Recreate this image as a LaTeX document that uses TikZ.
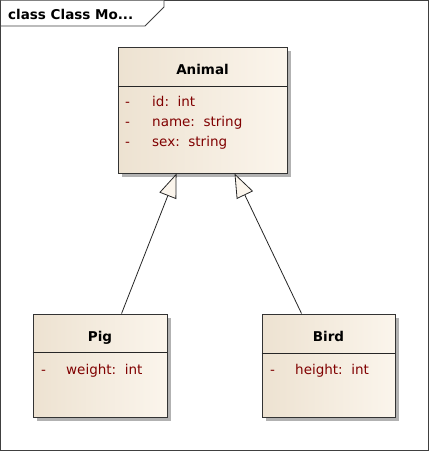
\documentclass[tikz,border=0pt]{standalone}
\usepackage{fontspec}
\setmainfont{DejaVu Sans}
\usetikzlibrary{arrows.meta,shadows}
\definecolor{boxl}{HTML}{EDE2D1}
\definecolor{boxr}{HTML}{FBF5EC}
\definecolor{attr}{HTML}{800000}
\definecolor{frameln}{HTML}{404040}
\tikzset{
  classbox/.style={rectangle, draw=black!80, line width=0.9pt, left color=boxl, right color=boxr, inner sep=0pt,
    drop shadow={shadow xshift=4pt, shadow yshift=-4pt, fill=black!30, opacity=1}},
  cname/.style={font=\fontsize{13.5}{16}\selectfont\bfseries, inner sep=0pt},
  attrtxt/.style={font=\fontsize{13.5}{16}\selectfont, text=attr, inner sep=0pt, anchor=base west},
  divider/.style={draw=black!85, line width=0.9pt},
  inh/.style={draw=black!85, line width=0.8pt, -{Triangle[length=24pt, width=18pt, fill=boxr]}},
}
\begin{document}
\begin{tikzpicture}[x=1pt,y=-1pt]
\useasboundingbox (0,0) rectangle (431,453);
% frame
\draw[frameln, line width=0.9pt] (0.5,0.5) rectangle (428,450);
\draw[frameln, line width=0.9pt, fill=white] (0.5,0.5) -- (0.5,26) -- (145,26) -- (164,7) -- (164,0.5);
\node[font=\fontsize{13.5}{16}\selectfont\bfseries, anchor=base west, inner sep=0pt] (title) at (8,19) {class Class Mo...};
% Animal
\node[classbox, minimum width=169pt, minimum height=126pt] (animal) at (202.5,110) {};
\node[cname, anchor=base] (animalname) at (202.5,74) {Animal};
\draw[divider] ([yshift=-40pt]animal.north west) -- ([yshift=-40pt]animal.north east);
\node[attrtxt] (a1m) at (125,106) {-};
\node[attrtxt] (a1) at (152,106) {id:\ \ int};
\node[attrtxt] (a2m) at (125,126) {-};
\node[attrtxt] (a2) at (152,126) {name:\ \ string};
\node[attrtxt] (a3m) at (125,146) {-};
\node[attrtxt] (a3) at (152,146) {sex:\ \ string};
% Pig
\node[classbox, minimum width=134pt, minimum height=103pt] (pig) at (100,365.5) {};
\node[cname, anchor=base] (pigname) at (100,341) {Pig};
\draw[divider] ([yshift=-39pt]pig.north west) -- ([yshift=-39pt]pig.north east);
\node[attrtxt] (p1m) at (41,374) {-};
\node[attrtxt] (p1) at (66,374) {weight:\ \ int};
% Bird
\node[classbox, minimum width=133pt, minimum height=103pt] (bird) at (328.5,365.5) {};
\node[cname, anchor=base] (birdname) at (328.5,341) {Bird};
\draw[divider] ([yshift=-40pt]bird.north west) -- ([yshift=-40pt]bird.north east);
\node[attrtxt] (b1m) at (270,374) {-};
\node[attrtxt] (b1) at (295,374) {height:\ \ int};
% generalizations
\draw[inh] ([xshift=89pt]pig.north west) -- ([xshift=59pt]animal.south west);
\draw[inh] ([xshift=40pt]bird.north west) -- ([xshift=117pt]animal.south west);
\end{tikzpicture}
\end{document}
